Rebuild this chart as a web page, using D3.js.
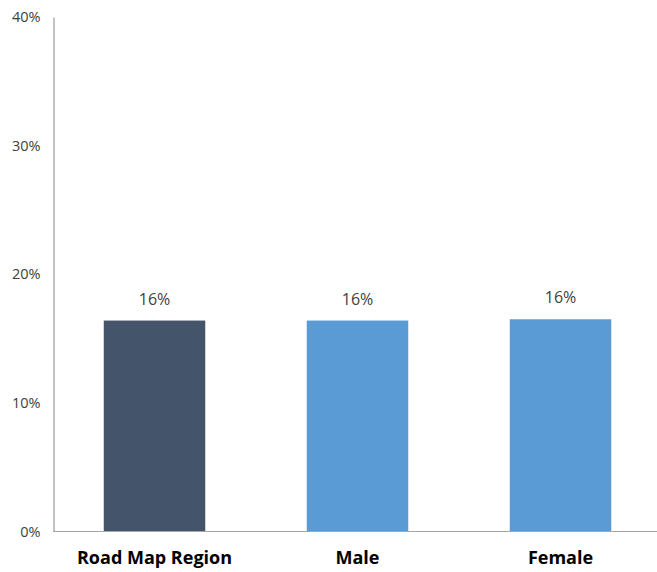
<!DOCTYPE html>
<html><head><meta charset="utf-8">
<script src="https://cdn.jsdelivr.net/npm/d3@7"></script>
<style>body{margin:0;background:#fff}svg{display:block}</style>
</head><body>
<svg id="c" width="657" height="572"></svg>
<script>
const categories = ["Road Map Region", "Male", "Female"];
const values = [0.164, 0.164, 0.165];
const labels = ["16%", "16%", "16%"];
const colors = ["#44546A", "#5B9BD5", "#5B9BD5"];
const yTicks = [0, 0.1, 0.2, 0.3, 0.4];

const svg = d3.select("#c");
const x = d3.scaleBand().domain(categories).range([53, 662]).paddingInner(0.5).paddingOuter(0.25);
const y = d3.scaleLinear().domain([0, 0.4]).range([531.5, 17]);

// y axis
const ya = svg.append("g").attr("transform", "translate(53.5,0)")
  .call(d3.axisLeft(y).tickValues(yTicks).tickFormat(d3.format(".0%")).tickSize(0).tickPadding(13));
ya.select(".domain").attr("stroke", "#868686");
ya.selectAll("text").attr("font-family", "Open Sans, Liberation Sans, sans-serif").attr("font-size", 14.5).attr("fill", "#404040");

// bars
svg.append("g").selectAll("rect").data(categories).join("rect")
  .attr("x", d => x(d)).attr("width", x.bandwidth())
  .attr("y", (d, i) => y(values[i])).attr("height", (d, i) => y(0) - y(values[i]))
  .attr("fill", (d, i) => colors[i]);

// x axis
const xa = svg.append("g").attr("transform", "translate(0,531.5)")
  .call(d3.axisBottom(x).tickSize(0).tickPadding(20));
xa.select(".domain").attr("stroke", "#a6a6a6").attr("d", "M53,0H657");
xa.selectAll("text").attr("font-family", "Open Sans, Liberation Sans, sans-serif").attr("font-size", 18).attr("font-weight", "bold").attr("fill", "#000");

// value labels
svg.append("g").selectAll("text").data(categories).join("text")
  .attr("x", d => x(d) + x.bandwidth() / 2)
  .attr("y", (d, i) => y(values[i]) - 16)
  .attr("text-anchor", "middle")
  .attr("font-family", "Open Sans, Liberation Sans, sans-serif").attr("font-size", 16).attr("fill", "#404040")
  .text((d, i) => labels[i]);
</script>
</body></html>
